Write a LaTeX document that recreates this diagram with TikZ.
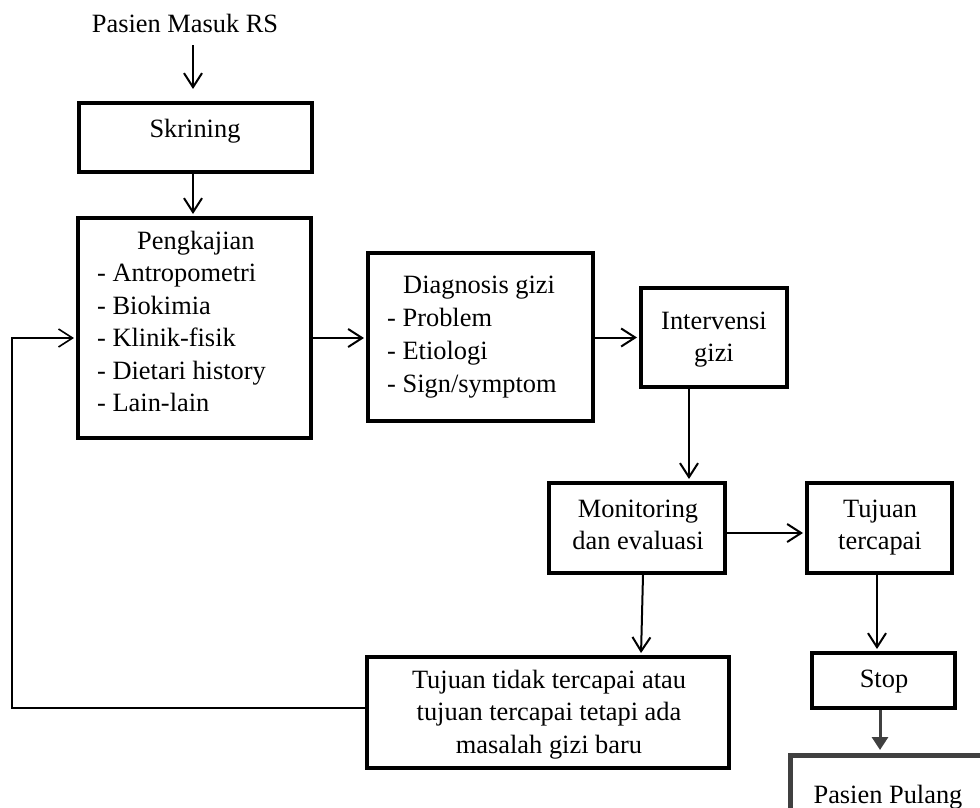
\documentclass[tikz,border=0pt]{standalone}
\usepackage{fontspec}
\setmainfont{Liberation Serif}
\usetikzlibrary{arrows.meta}
\tikzset{
  box/.style={draw, line width=4pt, inner sep=0pt},
  txt/.style={inner sep=0pt, font=\fontsize{26.4}{32.5}\selectfont},
  arr/.style={line width=2pt, -{Straight Barb[length=14pt,width=18pt]}, shorten >=2pt},
}
\begin{document}
\begin{tikzpicture}[x=1pt, y=-1pt]
   \useasboundingbox (0,0) rectangle (980,808);
   \clip (0,0) rectangle (980,808);
   \node[box, minimum width=233pt, minimum height=69pt] (skr) at (195.5,137.5) {};
   \node[box, minimum width=233pt, minimum height=220pt] (pk) at (194.5,328) {};
   \node[box, minimum width=225pt, minimum height=168pt] (dg) at (480.5,337) {};
   \node[box, minimum width=146pt, minimum height=99pt] (iv) at (714,337.5) {};
   \node[box, minimum width=176pt, minimum height=90pt] (mo) at (637,528) {};
   \node[box, minimum width=145pt, minimum height=90pt] (tc) at (879.5,528) {};
   \node[box, minimum width=362pt, minimum height=111pt] (tt) at (548,712.5) {};
   \node[box, minimum width=143pt, minimum height=55pt] (st) at (883.5,680.5) {};
   \node[box, draw=black!75, line width=5pt, minimum width=220pt, minimum height=95pt] (pl) at (900,802.5) {};

   \node[txt, anchor=base] (start) at (185,33) {Pasien Masuk RS};
   \node[txt, anchor=base] (skr-t) at (195,137) {Skrining};
   \node[txt, anchor=base west] (pk-t) at (97,249) {\begin{tabular}[t]{@{}l@{}}
     \multicolumn{1}{@{\hspace{40pt}}l@{}}{Pengkajian}\\
     - Antropometri\\ - Biokimia\\ - Klinik-fisik\\ - Dietari history\\ - Lain-lain
   \end{tabular}};
   \node[txt, anchor=base west, font=\fontsize{26.4}{33.2}\selectfont] (dg-t) at (387,293) {\begin{tabular}[t]{@{}l@{}}
     \multicolumn{1}{@{\hspace{16pt}}l@{}}{Diagnosis gizi}\\
     - Problem\\ - Etiologi\\ - Sign/symptom
   \end{tabular}};
   \node[txt, anchor=base] (iv-t) at (714,329) {\begin{tabular}[t]{@{}c@{}}Intervensi\\gizi\end{tabular}};
   \node[txt, anchor=base] (mo-t) at (638,517) {\begin{tabular}[t]{@{}c@{}}Monitoring\\dan evaluasi\end{tabular}};
   \node[txt, anchor=base] (tc-t) at (880,517) {\begin{tabular}[t]{@{}c@{}}Tujuan\\tercapai\end{tabular}};
   \node[txt, anchor=base] (tt-t) at (549,688) {\begin{tabular}[t]{@{}c@{}}Tujuan tidak tercapai atau\\tujuan tercapai tetapi ada\\masalah gizi baru\end{tabular}};
   \node[txt, anchor=base] (st-t) at (884,687) {Stop};
   \node[txt, anchor=base] (pl-t) at (888,803) {Pasien Pulang};

   \draw[arr, shorten <=12pt, shorten >=12pt] (start.south -| 193,0) -- ([xshift=-2.5pt]skr.north);
   \draw[arr] ([xshift=-2.5pt]skr.south) -- ([xshift=-1.5pt]pk.north);
   \draw[arr] ([yshift=-10pt]pk.east) -- ([yshift=-10pt]pk.east -| dg.west);
   \draw[arr] (iv.west -| dg.east) -- (iv.west);
   \draw[arr] ([xshift=-25pt]iv.south) -- ([xshift=-25pt]iv.south |- mo.north);
   \draw[arr] ([yshift=-5pt]mo.east) -- ([yshift=-5pt]mo.east -| tc.west);
   \draw[arr] ([xshift=6pt]mo.south) -- ([xshift=4pt]mo.south |- tt.north);
   \draw[arr] ([xshift=-2.5pt]tc.south) -- ([xshift=-2.5pt]tc.south |- st.north);
   \draw[line width=3pt, draw=black!75, -{Triangle[length=13pt,width=16pt]}, shorten >=2.5pt]
     ([xshift=-3.5pt]st.south) -- ([xshift=-3.5pt]st.south |- pl.north);
   \coordinate (back) at (12,708);
   \draw[arr, line width=1.6pt] ([yshift=4.5pt]tt.west) -- (back) |- ([yshift=-10pt]pk.west);
 \end{tikzpicture}
\end{document}
